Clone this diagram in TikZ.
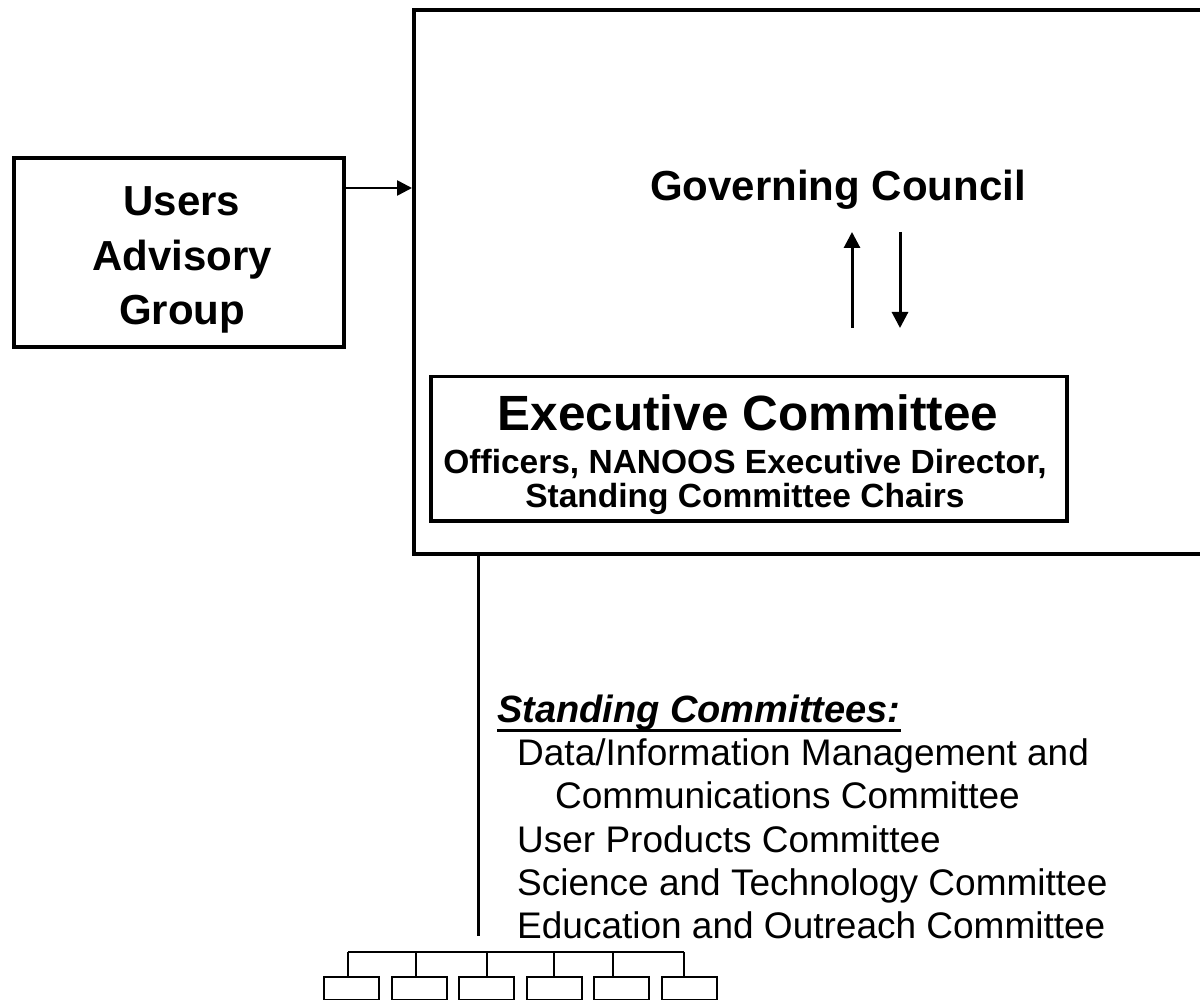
\documentclass[tikz,border=0pt]{standalone}
\usepackage{fontspec}
\setmainfont{Liberation Sans}
\usetikzlibrary{arrows.meta}
\begin{document}
\begin{tikzpicture}[x=1pt,y=-1pt,
  thickbox/.style={draw, line width=4pt, inner sep=0pt},
  exbox/.style={draw, line width=3.5pt, inner sep=0pt},
  smallbox/.style={draw, line width=1.8pt, minimum width=55pt, minimum height=23pt, inner sep=0pt, anchor=north west},
  treeline/.style={line width=1.8pt},
  arr/.style={line width=3pt, -{Triangle[length=16pt,width=16pt]}},
  sidearr/.style={line width=2.6pt, -{Triangle[length=15pt,width=15pt]}},
  bigtxt/.style={font=\fontsize{42}{50}\selectfont\bfseries, inner sep=0pt, anchor=base},
  extxt/.style={font=\fontsize{49.5}{56}\selectfont\bfseries, inner sep=0pt, anchor=base},
  midtxt/.style={font=\fontsize{33.5}{38}\selectfont\bfseries, inner sep=0pt, anchor=base},
  listtxt/.style={font=\fontsize{37}{44}\selectfont, inner sep=0pt, anchor=base west}]
\useasboundingbox (0,0) rectangle (1200,1000);
\clip (0,0) rectangle (1200,1000);
% Governing council outer box (extends past right edge)
\node[thickbox, minimum width=820pt, minimum height=544pt, anchor=north west] (gcbox) at (412,8) {};
\node[bigtxt] (gc) at (838,201) {Governing Council};
% Users Advisory Group
\node[thickbox, minimum width=330pt, minimum height=189pt, anchor=north west] (users) at (12,156) {};
\node[bigtxt] (u1) at (182,216) {Users};
\node[bigtxt] (u2) at (182,271) {Advisory};
\node[bigtxt] (u3) at (182,325) {Group};
\coordinate (ua) at (0,188);
\draw[sidearr] (users.east |- ua) -- (gcbox.west |- ua);
% Executive committee
\node[exbox, minimum width=636pt, minimum height=144pt, anchor=north west] (exec) at (429,375) {};
\node[extxt] (e1) at (748,430) {Executive Committee};
\node[midtxt] (e2) at (745,473) {Officers, NANOOS Executive Director,};
\node[midtxt] (e3) at (745,507) {Standing Committee Chairs};
% arrows between council and executive
\coordinate (upS) at (852,328);
\coordinate (upE) at (852,232);
\coordinate (dnS) at (900,232);
\coordinate (dnE) at (900,328);
\draw[arr] (upS) -- (upE);
\draw[arr] (dnS) -- (dnE);
% vertical connector
\coordinate (vl) at (478,0);
\coordinate (vlend) at (478,936);
\draw[line width=3pt] (gcbox.south -| vl) -- (vlend);
% standing committees
\node[font=\fontsize{38}{44}\selectfont\bfseries\itshape, inner sep=0pt, anchor=base west] (sc) at (497,722) {Standing Committees:};
\draw[line width=3pt] (sc.south west) -- (sc.south east);
\node[listtxt] (c1) at (517,765) {Data/Information Management and};
\node[listtxt] (c2) at (555,808) {Communications Committee};
\node[listtxt] (c3) at (517,852) {User Products Committee};
\node[listtxt] (c4) at (517,895) {Science and Technology Committee};
\node[listtxt] (c5) at (517,938) {Education and Outreach Committee};
% small tree
\node[smallbox] (b1) at (323,976) {};
\node[smallbox] (b2) at (391,976) {};
\node[smallbox] (b3) at (458,976) {};
\node[smallbox] (b4) at (526,976) {};
\node[smallbox] (b5) at (593,976) {};
\node[smallbox] (b6) at (661,976) {};
\coordinate (tl) at (348,952);
\coordinate (t2) at (416,952);
\coordinate (t3) at (487,952);
\coordinate (t4) at (554,952);
\coordinate (t5) at (613,952);
\coordinate (tr) at (684,952);
\draw[treeline] (tl) -- (tr);
\draw[treeline] (tl) -- (tl |- b1.north);
\draw[treeline] (t2) -- (t2 |- b2.north);
\draw[treeline] (t3) -- (t3 |- b3.north);
\draw[treeline] (t4) -- (t4 |- b4.north);
\draw[treeline] (t5) -- (t5 |- b5.north);
\draw[treeline] (tr) -- (tr |- b6.north);
\end{tikzpicture}
\end{document}
